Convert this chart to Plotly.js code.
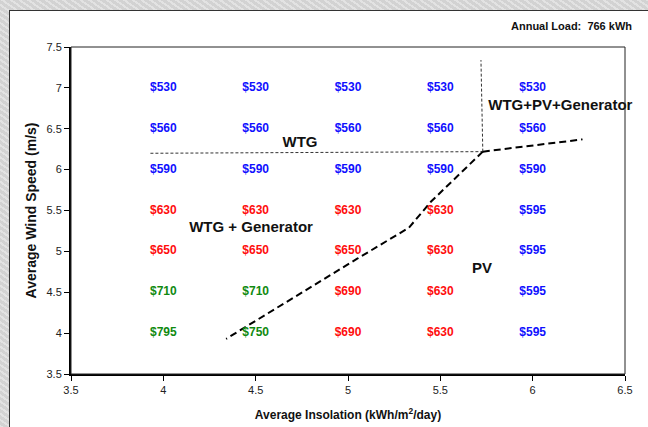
<!DOCTYPE html>
<html>
<head>
<meta charset="utf-8">
<script src="https://cdn.plot.ly/plotly-3.0.1.min.js"></script>
<style>
  html, body { margin: 0; padding: 0; width: 648px; height: 427px; overflow: hidden;
    background: #d9d9d9;
    background-image: repeating-linear-gradient(35deg, rgba(255,255,255,0.25) 0 2px, rgba(0,0,0,0.03) 2px 5px); }
  #chart { position: absolute; left: 9px; top: 10px; width: 639px; height: 417px;
    border-left: 1px solid #333; border-top: 1px solid #333; background: #fff; }
</style>
</head>
<body>
<div id="chart"></div>
<script>
// Average insolation (kWh/m2/day) columns
const insolation = [4, 4.5, 5, 5.5, 6];
// Average wind speed (m/s) rows
const windSpeed = [7, 6.5, 6, 5.5, 5, 4.5, 4];
// Cost ($) for each wind speed row (top to bottom) and insolation column
const costs = [
  [530, 530, 530, 530, 530],
  [560, 560, 560, 560, 560],
  [590, 590, 590, 590, 590],
  [630, 630, 630, 630, 595],
  [650, 650, 650, 630, 595],
  [710, 710, 690, 630, 595],
  [795, 750, 690, 630, 595]
];
// Colour group of each cell: B = blue, R = red, G = green
const groups = [
  ['B', 'B', 'B', 'B', 'B'],
  ['B', 'B', 'B', 'B', 'B'],
  ['B', 'B', 'B', 'B', 'B'],
  ['R', 'R', 'R', 'R', 'B'],
  ['R', 'R', 'R', 'R', 'B'],
  ['G', 'G', 'R', 'R', 'B'],
  ['G', 'G', 'R', 'R', 'B']
];
const groupColors = { B: '#1010FF', R: '#FF0D0D', G: '#108A10' };

// Region boundary lines
const wtgLineX = [3.93, 5.73];
const wtgLineY = [6.2, 6.22];
const vertLineX = [5.73, 5.72];
const vertLineY = [6.22, 7.34];
const hybridLineX = [5.73, 6.27];
const hybridLineY = [6.22, 6.37];
const pvLineX = [5.73, 5.45, 5.33, 5.05, 4.34];
const pvLineY = [6.22, 5.61, 5.29, 4.91, 3.93];

// Region names
const regionNames = ['WTG', 'WTG+PV+Generator', 'WTG + Generator', 'PV'];
const regionX = [4.74, 6.15, 4.475, 5.726];
const regionY = [6.32, 6.78, 5.28, 4.78];

// Axis ticks
const xTicks = [3.5, 4, 4.5, 5, 5.5, 6, 6.5];
const xTickText = ['3.5', '4', '4.5', '5', '5.5', '6', '6.5'];
const yTicks = [3.5, 4, 4.5, 5, 5.5, 6, 6.5, 7, 7.5];
const yTickText = ['3.5', '4', '4.5', '5', '5.5', '6', '6.5', '7', '7.5'];

const FONT = 'Liberation Sans, Arial, sans-serif';

const px = [], py = [], pt = [], pc = [];
windSpeed.forEach((w, i) => {
  insolation.forEach((s, j) => {
    px.push(s); py.push(w);
    pt.push('$' + costs[i][j]);
    pc.push(groupColors[groups[i][j]]);
  });
});

const thin = { color: '#333', width: 1, dash: '3px,2px' };
const thick = { color: '#000', width: 2, dash: '7px,4px' };

const traces = [
  { x: wtgLineX, y: wtgLineY, mode: 'lines', line: thin, hoverinfo: 'skip' },
  { x: vertLineX, y: vertLineY, mode: 'lines', line: thin, hoverinfo: 'skip' },
  { x: hybridLineX, y: hybridLineY, mode: 'lines', line: thick, hoverinfo: 'skip' },
  { x: pvLineX, y: pvLineY, mode: 'lines', line: thick, hoverinfo: 'skip' },
  { x: px, y: py, text: pt, mode: 'text', textposition: 'middle center',
    textfont: { family: FONT, size: 12, color: pc, weight: 'bold' }, cliponaxis: false },
  { x: regionX, y: regionY, text: regionNames, mode: 'text', textposition: 'middle center',
    textfont: { family: FONT, size: 15, color: '#111', weight: 'bold' }, cliponaxis: false }
];

const layout = {
  width: 639, height: 417,
  margin: { l: 61, r: 24, t: 36, b: 54 },
  paper_bgcolor: '#ffffff', plot_bgcolor: '#ffffff',
  showlegend: false,
  font: { family: FONT, size: 11, color: '#222' },
  xaxis: {
    range: [3.5, 6.5], tickvals: xTicks, ticktext: xTickText,
    showgrid: false, zeroline: false, showline: true, linecolor: '#000', linewidth: 2,
    ticks: 'outside', ticklen: 5, tickcolor: '#000', tickfont: { size: 11, color: '#222' },
    title: { text: 'Average Insolation (kWh/m<sup>2</sup>/day)', standoff: 15,
      font: { family: FONT, size: 12, color: '#111', weight: 'bold' } }
  },
  yaxis: {
    range: [3.5, 7.5], tickvals: yTicks, ticktext: yTickText,
    showgrid: false, zeroline: false, showline: true, linecolor: '#000', linewidth: 2,
    ticks: 'outside', ticklen: 5, tickcolor: '#000', tickfont: { size: 11, color: '#222' },
    title: { text: 'Average Wind Speed (m/s)', standoff: 7,
      font: { family: FONT, size: 14, color: '#111', weight: 'bold' } }
  },
  shapes: [
    { type: 'rect', xref: 'paper', yref: 'paper', x0: 0, x1: 1, y0: 0, y1: 1,
      line: { color: '#222', width: 1 } }
  ],
  annotations: [
    { text: 'Annual Load:  766 kWh', xref: 'paper', yref: 'paper', x: 1.016, y: 1.064,
      xanchor: 'right', yanchor: 'middle', showarrow: false,
      font: { family: FONT, size: 11, color: '#111', weight: 'bold' } }
  ]
};

Plotly.newPlot('chart', traces, layout, { displayModeBar: false, staticPlot: true });
</script>
</body>
</html>
